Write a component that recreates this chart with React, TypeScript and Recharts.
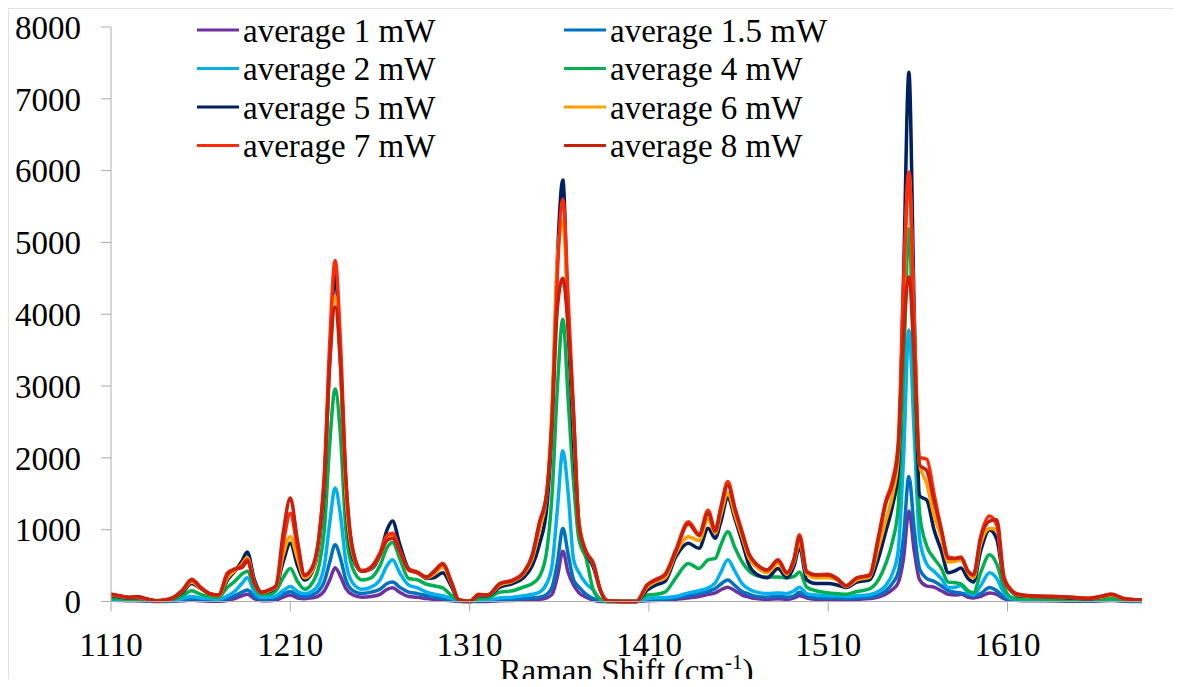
import { LineChart, Line, XAxis, YAxis } from "recharts";

// Raman shift (cm-1) sample positions shared by every spectrum
const wavenumbers = [
  1110, 1115, 1120, 1125, 1130, 1135, 1140, 1145, 1150, 1155,
  1160, 1165, 1170, 1175, 1179, 1183, 1186, 1190, 1194, 1198,
  1202, 1206, 1210, 1214, 1218, 1222, 1226, 1229, 1232, 1235,
  1238, 1241, 1245, 1250, 1255, 1260, 1264, 1267, 1271, 1276,
  1281, 1286, 1290, 1295, 1300, 1304, 1310, 1315, 1320, 1327,
  1334, 1340, 1345, 1349, 1353, 1356, 1359, 1362, 1365, 1368,
  1371, 1375, 1379, 1383, 1387, 1395, 1403, 1409, 1414, 1419,
  1425, 1432, 1438, 1443, 1447, 1450, 1454, 1458, 1462, 1466,
  1470, 1476, 1482, 1487, 1491, 1494, 1498, 1503, 1510, 1515,
  1520, 1526, 1533, 1538, 1542, 1546, 1549, 1552, 1555, 1558,
  1561, 1565, 1569, 1573, 1577, 1581, 1584, 1588, 1591, 1595,
  1600, 1604, 1608, 1612, 1616, 1625, 1635, 1645, 1655, 1662,
  1668, 1675, 1685,
];

const avg1mW = [
  20, 15, 10, 10, 5, 0, 0, 5, 10, 20,
  10, 5, 5, 15, 40, 80, 100, 40, 10, 10,
  20, 60, 90, 50, 40, 50, 80, 150, 300, 470,
  350, 180, 90, 60, 70, 100, 170, 190, 130, 70,
  60, 40, 30, 20, 10, 0, 0, 0, 0, 10,
  15, 20, 25, 30, 50, 100, 350, 700, 400, 230,
  120, 60, 20, 0, 0, 0, 0, 10, 15, 20,
  30, 50, 70, 100, 120, 160, 200, 150, 90, 60,
  40, 30, 40, 30, 50, 80, 50, 30, 30, 30,
  25, 30, 40, 60, 100, 170, 260, 600, 1260, 700,
  300, 215, 200, 150, 100, 90, 100, 60, 50, 70,
  120, 100, 40, 20, 15, 10, 10, 5, 5, 10,
  15, 5, 0,
];

const avg1_5mW = [
  30, 20, 20, 15, 10, 5, 5, 10, 20, 40,
  30, 20, 15, 40, 80, 130, 160, 70, 30, 30,
  50, 100, 140, 90, 70, 90, 150, 280, 550, 790,
  600, 300, 150, 110, 130, 170, 250, 270, 200, 130,
  110, 80, 60, 40, 20, 5, 0, 10, 10, 20,
  30, 40, 50, 60, 100, 200, 550, 1020, 650, 300,
  200, 100, 40, 10, 0, 0, 0, 20, 25, 30,
  50, 80, 110, 140, 180, 240, 300, 220, 140, 100,
  70, 60, 70, 60, 80, 130, 80, 50, 50, 50,
  40, 50, 60, 90, 146, 260, 400, 900, 1740, 1000,
  450, 320, 280, 220, 150, 130, 120, 90, 80, 110,
  195, 150, 60, 30, 20, 20, 15, 15, 10, 15,
  20, 10, 5,
];

const avg2mW = [
  40, 30, 25, 20, 15, 5, 10, 15, 40, 70,
  50, 40, 30, 80, 140, 250, 330, 130, 60, 60,
  80, 150, 210, 140, 110, 140, 250, 500, 1100, 1580,
  1200, 550, 250, 170, 200, 300, 500, 580, 400, 230,
  190, 130, 100, 80, 40, 10, 0, 20, 20, 50,
  60, 80, 100, 130, 250, 500, 1300, 2100, 1500, 580,
  400, 250, 160, 30, 0, 0, 0, 40, 50, 55,
  70, 120, 150, 190, 260, 400, 580, 420, 250, 170,
  130, 110, 120, 110, 150, 200, 110, 90, 80, 80,
  70, 80, 95, 140, 220, 400, 700, 2000, 3780, 2300,
  870, 520, 420, 320, 195, 200, 220, 120, 95, 220,
  400, 320, 120, 40, 30, 25, 20, 20, 15, 20,
  30, 15, 10,
];

const avg4mW = [
  50, 40, 30, 30, 20, 10, 10, 30, 80, 150,
  100, 70, 60, 200, 280, 380, 420, 200, 100, 100,
  150, 330, 460, 280, 170, 250, 500, 1000, 2200, 2960,
  2300, 1000, 450, 300, 330, 500, 750, 820, 600, 320,
  300, 240, 220, 190, 80, 20, 0, 40, 50, 130,
  150, 200, 250, 350, 700, 1500, 3000, 3930, 2800, 1650,
  860, 600, 160, 30, 0, 0, 0, 90, 100, 130,
  330, 530, 460, 580, 600, 780, 970, 750, 550, 420,
  360, 340, 340, 330, 350, 410, 200, 150, 120, 110,
  100, 140, 175, 300, 520, 850, 1300, 3200, 5190, 3000,
  1220, 770, 600, 465, 270, 260, 245, 150, 120, 400,
  650, 520, 200, 60, 40, 40, 30, 25, 25, 30,
  40, 20, 10,
];

const avg5mW = [
  80, 60, 50, 50, 30, 10, 15, 50, 130, 250,
  180, 110, 80, 300, 420, 560, 690, 300, 130, 140,
  200, 550, 810, 500, 300, 400, 800, 1600, 3400, 4550,
  3300, 1400, 600, 420, 450, 650, 1000, 1120, 800, 460,
  400, 320, 330, 400, 200, 20, 0, 80, 80, 200,
  250, 330, 500, 800, 1300, 2500, 4800, 5870, 3800, 2200,
  1100, 680, 480, 150, 10, 0, 0, 160, 230, 280,
  620, 810, 740, 1020, 880, 1100, 1440, 1150, 830, 500,
  380, 330, 460, 330, 500, 760, 300, 250, 250, 230,
  195, 270, 300, 600, 965, 1350, 1800, 4500, 7370, 4000,
  1470, 1410, 1000, 715, 400, 430, 465, 320, 270, 700,
  995, 870, 300, 150, 80, 70, 60, 50, 40, 60,
  90, 40, 20,
];

const avg6mW = [
  90, 70, 55, 55, 30, 10, 15, 55, 150, 270,
  180, 110, 80, 330, 430, 520, 610, 260, 130, 150,
  200, 650, 900, 600, 330, 420, 850, 1700, 3400, 4250,
  3300, 1500, 650, 420, 460, 650, 880, 920, 700, 440,
  400, 330, 380, 480, 240, 20, 0, 90, 90, 230,
  280, 380, 600, 1000, 1500, 2700, 4800, 5300, 4000, 2500,
  1100, 690, 520, 150, 10, 0, 0, 200, 280, 330,
  670, 900, 850, 1150, 950, 1200, 1510, 1200, 900, 600,
  480, 400, 530, 380, 560, 830, 380, 330, 330, 300,
  210, 300, 340, 750, 1120, 1500, 2000, 4200, 5960, 3800,
  1900, 1640, 1200, 900, 550, 560, 580, 400, 330, 800,
  1015, 1000, 330, 170, 90, 70, 70, 60, 50, 60,
  90, 40, 20,
];

const avg7mW = [
  100, 75, 60, 65, 35, 10, 20, 60, 160, 310,
  200, 110, 90, 400, 450, 500, 580, 260, 120, 160,
  210, 800, 1230, 750, 360, 460, 900, 1800, 3600, 4750,
  3600, 1700, 700, 430, 480, 680, 920, 950, 720, 450,
  410, 340, 420, 530, 260, 20, 0, 100, 90, 250,
  300, 400, 650, 1100, 1500, 2600, 4600, 5600, 4200, 2600,
  1050, 690, 530, 150, 10, 0, 0, 230, 310, 380,
  720, 1110, 940, 1270, 1000, 1300, 1670, 1300, 970, 650,
  520, 440, 580, 400, 600, 930, 420, 370, 380, 320,
  220, 330, 370, 900, 1390, 1700, 2200, 4400, 5980, 3800,
  2010, 1980, 1500, 1015, 620, 600, 620, 420, 370, 900,
  1190, 1065, 300, 150, 100, 70, 70, 60, 40, 70,
  100, 40, 20,
];

const avg8mW = [
  100, 80, 60, 65, 35, 10, 20, 60, 160, 300,
  190, 110, 90, 380, 450, 470, 560, 250, 130, 160,
  220, 950, 1440, 850, 370, 460, 900, 1700, 3300, 4100,
  3300, 1700, 700, 420, 470, 650, 850, 880, 700, 440,
  400, 340, 410, 520, 260, 20, 0, 90, 90, 250,
  290, 400, 650, 1100, 1500, 2500, 4100, 4500, 3800, 2600,
  1050, 690, 530, 150, 10, 0, 0, 230, 300, 370,
  700, 1080, 920, 1230, 980, 1280, 1620, 1280, 950, 650,
  520, 440, 570, 400, 600, 900, 410, 370, 370, 310,
  220, 330, 360, 880, 1360, 1650, 2100, 3700, 4520, 3400,
  1900, 1820, 1400, 1000, 600, 600, 610, 420, 370, 880,
  1120, 1140, 350, 160, 100, 75, 70, 60, 45, 70,
  100, 40, 20,
];

const xTicks = [1110, 1210, 1310, 1410, 1510, 1610];
const yTicks = [0, 1000, 2000, 3000, 4000, 5000, 6000, 7000, 8000];

const series = [
  { key: "p1", name: "average 1 mW", color: "#7030A0", values: avg1mW },
  { key: "p15", name: "average 1.5 mW", color: "#0070C0", values: avg1_5mW },
  { key: "p2", name: "average 2 mW", color: "#00B0F0", values: avg2mW },
  { key: "p4", name: "average 4 mW", color: "#00B050", values: avg4mW },
  { key: "p5", name: "average 5 mW", color: "#002060", values: avg5mW },
  { key: "p6", name: "average 6 mW", color: "#FFA000", values: avg6mW },
  { key: "p7", name: "average 7 mW", color: "#FF2A0A", values: avg7mW },
  { key: "p8", name: "average 8 mW", color: "#C8200A", values: avg8mW },
];

const data = wavenumbers.map((x, i) => {
  const row: Record<string, number> = { x };
  series.forEach((s) => {
    row[s.key] = s.values[i];
  });
  return row;
});

const FONT = "Liberation Serif";
const AXIS = "#ababab";

function AxisTitle(props: any) {
  const vb = props.viewBox || {};
  return (
    <text
      x={vb.x + vb.width / 2}
      y={vb.y + 80}
      textAnchor="middle"
      fontFamily={FONT}
      fontSize={33}
      fill="#000"
    >
      Raman Shift (cm
      <tspan fontSize={21} dy={-13}>-1</tspan>
      <tspan dy={13}>)</tspan>
    </text>
  );
}

// two-column legend at the top of the plot
function LegendOverlay() {
  const cols = [197, 564];
  const rows = [30, 68.5, 107, 145.5];
  return (
    <svg
      width={1181}
      height={687}
      style={{ position: "absolute", left: 0, top: 0, pointerEvents: "none" }}
    >
      {series.map((s, i) => {
        const cx = cols[i % 2];
        const cy = rows[Math.floor(i / 2)];
        return (
          <g key={s.key}>
            <line x1={cx} x2={cx + 42} y1={cy} y2={cy} stroke={s.color} strokeWidth={3} />
            <text x={cx + 46} y={cy + 11.7} fontFamily={FONT} fontSize={33} fill="#000">
              {s.name}
            </text>
          </g>
        );
      })}
    </svg>
  );
}

export default function App() {
  return (
    <div
      style={{
        position: "relative",
        width: 1181,
        height: 687,
        margin: "-8px -8px -8px -8px",
        overflow: "hidden",
        background: "#fff",
        fontFamily: FONT,
      }}
    >
      <div
        style={{
          position: "absolute",
          left: 8,
          top: 8,
          right: 0,
          bottom: 0,
          borderTop: "1px solid #e2e2e2",
          borderLeft: "1px solid #e2e2e2",
        }}
      />
      <LineChart
        width={1181}
        height={687}
        data={data}
        margin={{ top: 27, right: 39, bottom: 25.5, left: 0 }}
        style={{ position: "absolute", left: 0, top: 0 }}
      >
        <XAxis
          dataKey="x"
          type="number"
          domain={[1110, 1685]}
          ticks={xTicks}
          allowDataOverflow
          height={60}
          stroke={AXIS}
          tickSize={10}
          tickMargin={21}
          tick={{ fill: "#000", fontSize: 33, fontFamily: FONT }}
          label={<AxisTitle />}
        />
        <YAxis
          type="number"
          domain={[0, 8000]}
          ticks={yTicks}
          width={111}
          stroke={AXIS}
          tickSize={10}
          tickMargin={20}
          tick={{ fill: "#000", fontSize: 33, fontFamily: FONT }}
        />
        {series.map((s) => (
          <Line
            key={s.key}
            dataKey={s.key}
            name={s.name}
            type="monotone"
            stroke={s.color}
            strokeWidth={3.5}
            strokeLinejoin="round"
            dot={false}
            activeDot={false}
            isAnimationActive={false}
          />
        ))}
      </LineChart>
      <LegendOverlay />
    </div>
  );
}
